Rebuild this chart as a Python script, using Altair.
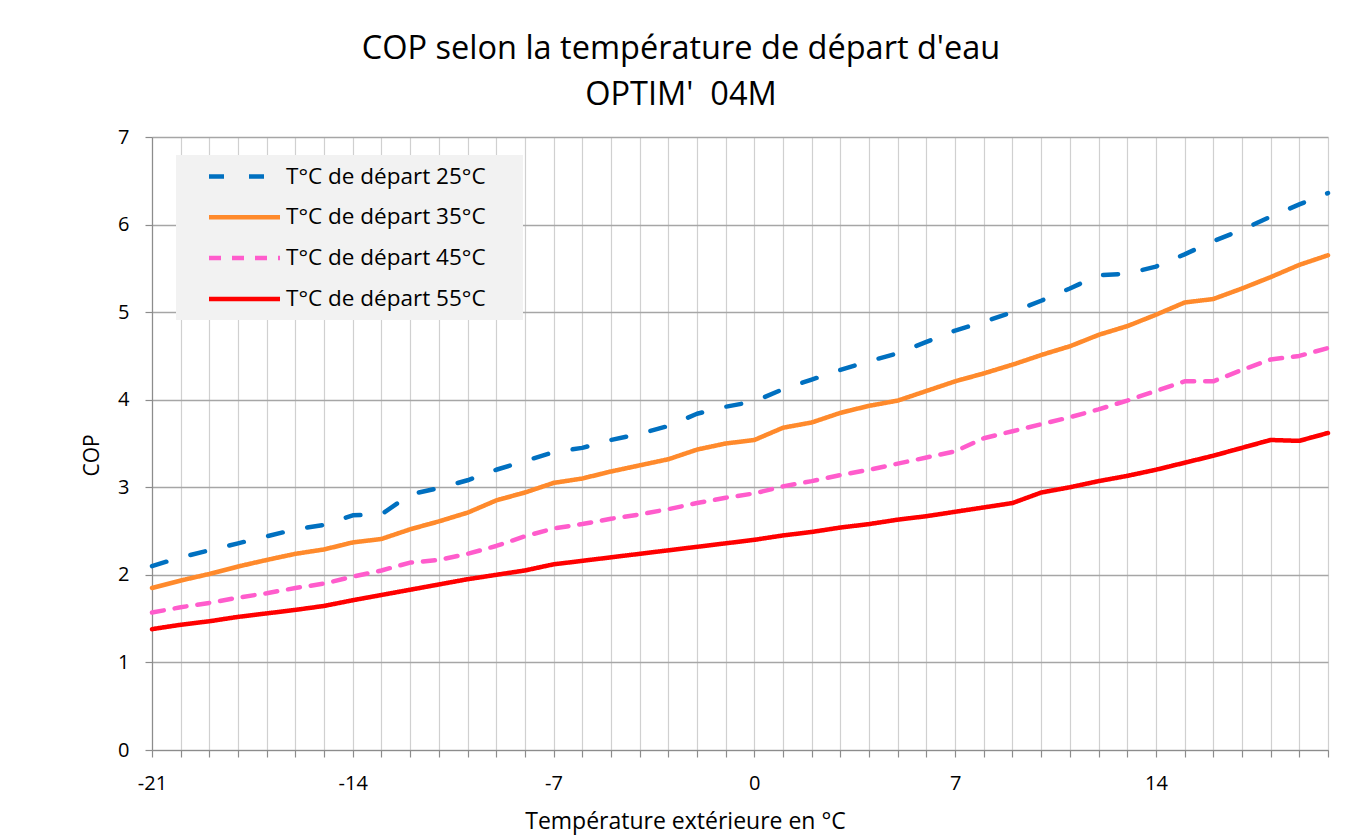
import altair as alt
import pandas as pd

temps = [-21, -20, -19, -18, -17, -16, -15, -14, -13, -12, -11, -10, -9, -8,
         -7, -6, -5, -4, -3, -2, -1, 0, 1, 2, 3, 4, 5, 6,
         7, 8, 9, 10, 11, 12, 13, 14, 15, 16, 17, 18, 19, 20]

cop_25 = [2.10, 2.20, 2.28, 2.36, 2.44, 2.52, 2.57, 2.68, 2.69, 2.92, 2.99, 3.08, 3.20, 3.30,
          3.40, 3.45, 3.54, 3.61, 3.70, 3.84, 3.92, 3.98, 4.12, 4.23, 4.34, 4.44, 4.53, 4.66,
          4.79, 4.89, 5.00, 5.13, 5.27, 5.42, 5.44, 5.52, 5.66, 5.81, 5.94, 6.09, 6.23, 6.36]
cop_35 = [1.85, 1.935, 2.01, 2.095, 2.17, 2.24, 2.29, 2.37, 2.41, 2.52, 2.61, 2.71, 2.85, 2.94,
          3.05, 3.10, 3.18, 3.25, 3.32, 3.43, 3.50, 3.54, 3.68, 3.74, 3.85, 3.93, 3.99, 4.10,
          4.21, 4.30, 4.40, 4.51, 4.61, 4.74, 4.84, 4.97, 5.11, 5.15, 5.27, 5.40, 5.54, 5.65]
cop_45 = [1.57, 1.63, 1.68, 1.74, 1.79, 1.85, 1.90, 1.98, 2.05, 2.14, 2.17, 2.24, 2.33, 2.44,
          2.53, 2.58, 2.64, 2.69, 2.75, 2.82, 2.88, 2.93, 3.01, 3.07, 3.14, 3.20, 3.27, 3.34,
          3.41, 3.56, 3.64, 3.72, 3.80, 3.89, 3.99, 4.10, 4.21, 4.21, 4.34, 4.46, 4.50, 4.59]
cop_55 = [1.38, 1.43, 1.47, 1.52, 1.56, 1.60, 1.645, 1.71, 1.77, 1.83, 1.89, 1.95, 2.00, 2.05,
          2.12, 2.16, 2.20, 2.24, 2.28, 2.32, 2.36, 2.40, 2.45, 2.49, 2.54, 2.58, 2.63, 2.67,
          2.72, 2.77, 2.82, 2.94, 3.00, 3.07, 3.13, 3.20, 3.28, 3.36, 3.45, 3.54, 3.53, 3.62]

series_names = ["T°C de départ 25°C", "T°C de départ 35°C",
                "T°C de départ 45°C", "T°C de départ 55°C"]
series_colors = ["#0070c0", "#ff8a2c", "#ff5ccc", "#ff0000"]
series_dashes = [[15, 25], [1, 0], [12, 11], [1, 0]]

x_label_values = [-21, -14, -7, 0, 7, 14]
y_ticks = [0, 1, 2, 3, 4, 5, 6, 7]

rows = []
for name, vals in zip(series_names, [cop_25, cop_35, cop_45, cop_55]):
    for t, v in zip(temps, vals):
        rows.append({"temp": t, "cop": v, "serie": name})
df = pd.DataFrame(rows)

FONT = "Open Sans"


def make_legend():
    # line symbol; the trailing move-to only widens the legend box (nothing drawn)
    return alt.Legend(title=None, orient="none", legendX=24, legendY=18,
                      fillColor="#f2f2f2", padding=9,
                      symbolType="M-3.55,0H3.55M26,0", symbolSize=400,
                      symbolStrokeWidth=4.5, symbolOffset=47,
                      labelFontSize=22.5, labelFont=FONT, labelColor="#000000",
                      labelOffset=29, rowPadding=16.8, labelLimit=400)


chart = alt.Chart(df).mark_line(strokeWidth=4.5, strokeCap="round", strokeJoin="round").encode(
    x=alt.X("temp:Q",
            scale=alt.Scale(domain=[-21, 20], nice=False, zero=False),
            axis=alt.Axis(values=temps,
                          labelExpr="indexof([" + ",".join(str(v) for v in x_label_values) + "], datum.value) >= 0 ? '' + datum.value : ''",
                          title="Température extérieure en °C",
                          titleX=533, titleY=78, titleBaseline="alphabetic",
                          titleAnchor="start", titleAlign="center",
                          gridColor="#d0d0d0", gridWidth=1.2,
                          domainColor="#8c8c8c", domainWidth=1.2,
                          tickColor="#8c8c8c", tickSize=7, tickWidth=1.2,
                          labelPadding=16, labelFlush=False, labelOverlap=False)),
    y=alt.Y("cop:Q",
            scale=alt.Scale(domain=[0, 7], nice=False),
            axis=alt.Axis(values=y_ticks, format="d", title="COP",
                          titleX=-60, titleY=318, titleAngle=-90, titleFontSize=21,
                          titleBaseline="middle", titleAlign="center", titleAnchor="start",
                          gridColor="#a6a6a6", gridWidth=1.4,
                          domainColor="#8c8c8c", domainWidth=1.2,
                          tickColor="#8c8c8c", tickSize=7, tickWidth=1.2,
                          labelPadding=16)),
    color=alt.Color("serie:N",
                    scale=alt.Scale(domain=series_names, range=series_colors),
                    legend=make_legend()),
    strokeDash=alt.StrokeDash("serie:N",
                              scale=alt.Scale(domain=series_names, range=series_dashes),
                              legend=make_legend()),
).properties(
    width=1176,
    height=613,
    padding={"left": 144, "top": 129, "right": 22, "bottom": 88},
    autosize=alt.AutoSizeParams(type="none"),
    title=alt.TitleParams(text=["COP selon la température de départ d'eau", "OPTIM'\u00a0 04M"],
                          font=FONT, fontSize=32.5, fontWeight="normal", color="#000000",
                          anchor="middle", dx=-59, offset=16, lineHeight=46),
).configure(
    background="#ffffff"
).configure_axis(
    labelFont=FONT, labelFontSize=20, labelColor="#000000",
    titleFont=FONT, titleFontSize=23, titleFontWeight="normal", titleColor="#000000",
).configure_view(
    stroke=None
)

chart.save("out.html", embed_options={"renderer": "svg", "actions": False})
